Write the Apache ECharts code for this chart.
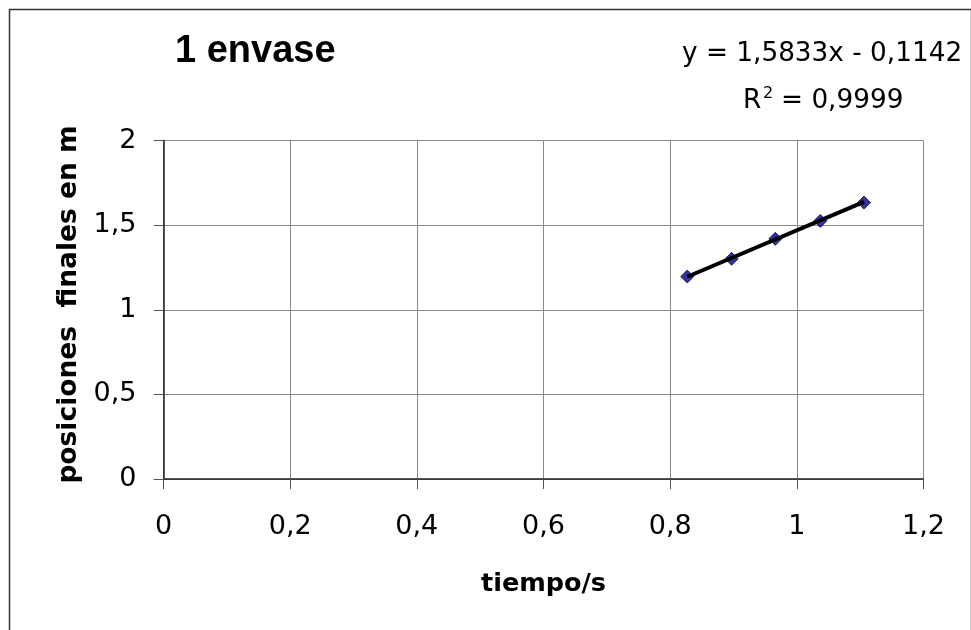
<!DOCTYPE html>
<html>
<head>
<meta charset="utf-8">
<script src="https://cdn.jsdelivr.net/npm/echarts@6/dist/echarts.min.js"></script>
<style>
html,body{margin:0;padding:0;background:#fff;}
#chart{width:971px;height:630px;}
</style>
</head>
<body>
<div id="chart"></div>
<script>
// Data
var tiempo = [0.827, 0.897, 0.966, 1.037, 1.106];
var posiciones = [1.196, 1.301, 1.419, 1.525, 1.633];
var trendX = [0.827, 1.106];
var trendY = [1.195, 1.637];
var xTicks = [0, 0.2, 0.4, 0.6, 0.8, 1, 1.2];
var yTicks = [0, 0.5, 1, 1.5, 2];
var titleText = '1 envase';
var equationText = 'y = 1,5833x - 0,1142';
var r2Value = '0,9999';
var xTitle = 'tiempo/s';
var yTitle = 'posiciones  finales en m';

var FONT = '"DejaVu Sans", Verdana, sans-serif';
var TFONT = '"Liberation Sans", Arial, sans-serif';
function fmt(v){ return String(v).replace('.', ','); }

var chart = echarts.init(document.getElementById('chart'), null, {renderer:'canvas'});
var option = {
  backgroundColor: '#ffffff',
  animation: false,
  grid: {left: 163.5, right: 47.5, top: 140.5, bottom: 151, containLabel: false},
  xAxis: {
    type: 'value', min: xTicks[0], max: xTicks[xTicks.length - 1], interval: 0.2,
    axisLine: {show: true, lineStyle: {color: '#222', width: 1.5}},
    axisTick: {show: true, inside: false, length: 10, lineStyle: {color: '#555', width: 1}},
    splitLine: {show: true, lineStyle: {color: '#888', width: 1}},
    axisLabel: {color: '#000', fontFamily: FONT, fontSize: 27, margin: 34,
      formatter: function(v){ return fmt(v); }},
    name: xTitle, nameLocation: 'middle', nameGap: 92,
    nameTextStyle: {fontFamily: FONT, fontSize: 25.5, fontWeight: 'bold', color: '#000'}
  },
  yAxis: {
    type: 'value', min: yTicks[0], max: yTicks[yTicks.length - 1], interval: 0.5,
    axisLine: {show: true, lineStyle: {color: '#222', width: 1.5}},
    axisTick: {show: true, inside: false, length: 10, lineStyle: {color: '#555', width: 1}},
    splitLine: {show: true, lineStyle: {color: '#888', width: 1}},
    axisLabel: {color: '#000', fontFamily: FONT, fontSize: 27, margin: 27,
      formatter: function(v){ return fmt(v); }}
  },
  series: [
    {
      type: 'scatter', name: 'datos',
      data: tiempo.map(function(x, i){ return [x, posiciones[i]]; }),
      symbol: 'diamond', symbolSize: 13,
      itemStyle: {color: '#000080', borderColor: '#000050', borderWidth: 1}, z: 2
    },
    {
      type: 'line', name: 'tendencia',
      data: trendX.map(function(x, i){ return [x, trendY[i]]; }),
      showSymbol: false, symbol: 'none',
      lineStyle: {color: '#000', width: 4}, z: 3
    }
  ],
  graphic: [
    {type: 'rect', left: 7, top: 7, shape: {width: 962, height: 650},
     style: {fill: 'none', stroke: '#333', lineWidth: 1.5}, silent: true},
    {type: 'text', left: 175, top: 33,
     style: {text: titleText, fontFamily: TFONT, fontSize: 38, fontWeight: 'bold', fill: '#000'}},
    {type: 'text', left: 682, top: 41,
     style: {text: equationText, fontFamily: FONT, fontSize: 26.3, fill: '#000'}},
    {type: 'text', left: 743, top: 88,
     style: {text: 'R', fontFamily: FONT, fontSize: 26.3, fill: '#000'}},
    {type: 'text', left: 763, top: 86,
     style: {text: '2', fontFamily: FONT, fontSize: 16, fill: '#000'}},
    {type: 'text', left: 781, top: 88,
     style: {text: '= ' + r2Value, fontFamily: FONT, fontSize: 26.3, fill: '#000'}},
    {type: 'text', x: 69.5, y: 304.5, rotation: Math.PI / 2,
     style: {text: yTitle, fontFamily: FONT, fontSize: 26.5, fontWeight: 'bold', fill: '#000',
       align: 'center', verticalAlign: 'middle'}}
  ]
};
chart.setOption(option);
</script>
</body>
</html>
